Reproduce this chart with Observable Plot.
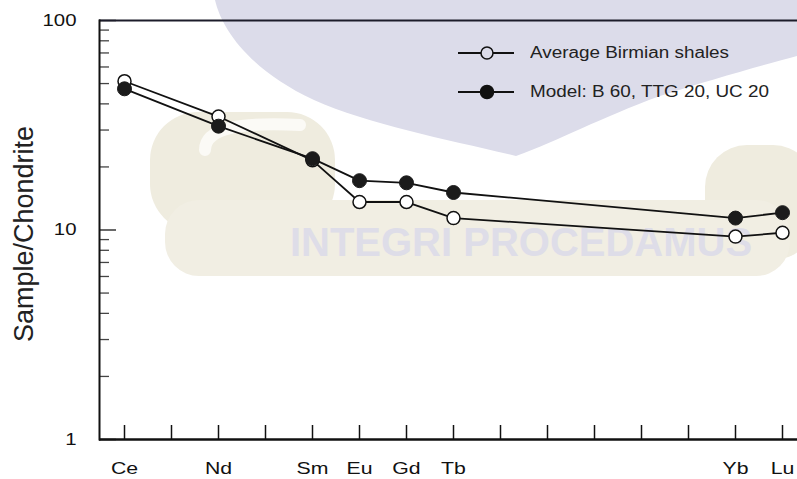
<!DOCTYPE html>
<html>
<head>
<meta charset="utf-8">
<script src="https://cdn.jsdelivr.net/npm/d3@7"></script>
<script src="https://cdn.jsdelivr.net/npm/@observablehq/plot@0.6"></script>
<style>
  body { margin: 0; background: #fff; }
  #wrap { position: relative; width: 797px; height: 479px; overflow: hidden; font-family: "Liberation Sans", Arial, sans-serif; }
  #wrap > * { position: absolute; left: 0; top: 0; }
  .lg-text { position: absolute; font-size: 16px; color: #222; white-space: nowrap; transform: scaleX(1.18); transform-origin: left center; line-height: 18px; }
</style>
</head>
<body>
<div id="wrap">
  <!-- faint repository crest behind the chart -->
  <svg id="crest" width="797" height="479">
    <path d="M215,0 C222,30 250,70 314,100 C370,125 450,140 516,156 C560,140 600,118 660,96 C710,80 760,66 797,56 L797,0 Z" fill="#dcdcea"/>
    <rect x="150" y="112" width="185" height="120" rx="48" fill="#efecdf"/>
    <path d="M205,150 C205,128 240,122 300,125" fill="none" stroke="#fbfaf6" stroke-width="12" stroke-linecap="round"/>
    <rect x="705" y="145" width="110" height="115" rx="42" fill="#efecdf"/>
    <rect x="165" y="200" width="625" height="76" rx="34" fill="#f1eee3"/>
    <text x="521" y="256" text-anchor="middle" font-family="Liberation Sans, Arial, sans-serif" font-weight="bold" font-size="40" fill="#dedde8">INTEGRI PROCEDAMUS</text>
  </svg>
  <div id="chart"></div>
  <div id="legend"></div>
</div>
<script>
// Rare earth element positions along the x axis (one unlabeled slot between Dy and Ho)
const elements = ["Ce", "Pr", "Nd", "Pm", "Sm", "Eu", "Gd", "Tb", "Dy", "Y", "Ho", "Er", "Tm", "Yb", "Lu"];
const labeledElements = ["Ce", "Nd", "Sm", "Eu", "Gd", "Tb", "Yb", "Lu"];

// Chondrite-normalised abundances
const sampleElements = ["Ce", "Nd", "Sm", "Eu", "Gd", "Tb", "Yb", "Lu"];
const shaleValues = [51.3, 34.8, 21.5, 13.6, 13.6, 11.4, 9.3, 9.7];
const modelValues = [47.2, 31.3, 21.9, 17.2, 16.8, 15.1, 11.4, 12.1];

const seriesNames = ["Average Birmian shales", "Model: B 60, TTG 20, UC 20"];

// Log axis ticks
const yMajor = [1, 10, 100];
const yMinor = [2, 3, 4, 5, 6, 7, 8, 9, 20, 30, 40, 50, 60, 70, 80, 90];

const shale = sampleElements.map((e, i) => ({element: e, value: shaleValues[i]}));
const model = sampleElements.map((e, i) => ({element: e, value: modelValues[i]}));

const W = 797, H = 479, mL = 99, mR = 0, mT = 20, mB = 40;
const innerW = W - mL - mR, innerH = H - mT - mB;
const font = "Liberation Sans, Arial, sans-serif";

const chart = Plot.plot({
  width: W, height: H,
  marginLeft: mL, marginRight: mR, marginTop: mT, marginBottom: mB,
  style: {background: "transparent", fontFamily: font, color: "#111", overflow: "visible"},
  x: {type: "point", domain: elements, range: [123, 783], padding: 0, axis: null},
  y: {type: "log", domain: [1, 100], axis: null},
  marks: [
    // inward ticks
    Plot.tickY(yMinor, {y: d => d, insetRight: innerW - 10, stroke: "#444", strokeWidth: 1.3}),
    Plot.tickY(yMajor, {y: d => d, insetRight: innerW - 17, stroke: "#444", strokeWidth: 1.6}),
    Plot.tickX(elements, {x: d => d, insetTop: innerH - 14, stroke: "#111", strokeWidth: 1.5}),
    // frame lines
    Plot.ruleY([100], {stroke: "#1c1c2a", strokeWidth: 2}),
    Plot.ruleY([1], {stroke: "#111", strokeWidth: 2.5}),
    Plot.frame({anchor: "left", stroke: "#111", strokeWidth: 2}),
    // tick labels
    Plot.axisY(yMajor, {tickSize: 0, tickPadding: 23, fontSize: 17, tickFormat: d => String(d), label: null}),
    Plot.axisX(labeledElements, {tickSize: 0, tickPadding: 22, fontSize: 17, label: null}),
    Plot.text(["Sample/Chondrite"], {frameAnchor: "left", textAnchor: "middle", rotate: -90, dx: -75, dy: 4, fontSize: 27, fill: "#222", lineAnchor: "middle"}),
    // series
    Plot.line(shale, {x: "element", y: "value", stroke: "#111", strokeWidth: 1.8}),
    Plot.dot(shale, {x: "element", y: "value", r: 6.5, fill: "white", stroke: "#111", strokeWidth: 1.5}),
    Plot.line(model, {x: "element", y: "value", stroke: "#111", strokeWidth: 1.8}),
    Plot.dot(model, {x: "element", y: "value", r: 7, fill: "#1b1b1b", stroke: "#1b1b1b", strokeWidth: 1})
  ]
});

// widen tick label glyphs horizontally around their anchor
function widen(root, selector, s) {
  root.querySelectorAll(selector).forEach(t => {
    const xa = t.getAttribute("x");
    const x = xa !== null && /^-?[\d.]+$/.test(xa) ? +xa : 0;
    const tr = t.getAttribute("transform") || "";
    t.setAttribute("transform", `${tr} translate(${x},0) scale(${s},1) translate(${-x},0)`);
  });
}
widen(chart, 'g[aria-label="x-axis tick label"] text', 1.25);
widen(chart, 'g[aria-label="y-axis tick label"] text', 1.2);

document.getElementById("chart").appendChild(chart);

// legend
const legend = d3.select("#legend");
const lsvg = legend.append("svg").attr("width", W).attr("height", 130).style("position", "absolute").style("left", 0).style("top", 0);
const rows = [53, 92];
seriesNames.forEach((name, i) => {
  const y = rows[i];
  lsvg.append("line").attr("x1", 458).attr("x2", 514).attr("y1", y).attr("y2", y).attr("stroke", "#111").attr("stroke-width", 2);
  lsvg.append("circle").attr("cx", 487).attr("cy", y).attr("r", i === 0 ? 6 : 6.5)
    .attr("fill", i === 0 ? "#dcdcea" : "#111").attr("stroke", "#111").attr("stroke-width", 1.5);
  legend.append("div").attr("class", "lg-text").style("left", "530px").style("top", (y - 9) + "px").text(name);
});
</script>
</body>
</html>
